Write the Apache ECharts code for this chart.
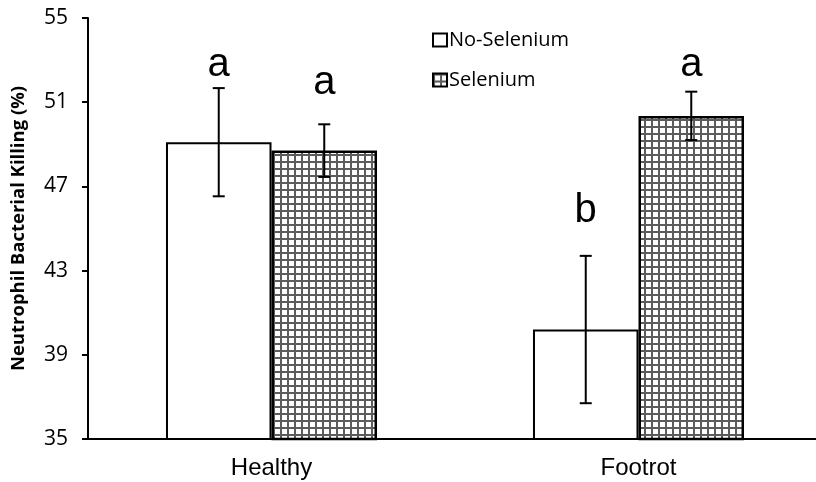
<!DOCTYPE html>
<html><head><meta charset="utf-8">
<script src="https://cdn.jsdelivr.net/npm/echarts@6/dist/echarts.min.js"></script>
<style>html,body{margin:0;padding:0;background:#fff}#c{width:816px;height:482px}</style>
</head><body><div id="c"></div>
<script>
var categories = ['Healthy', 'Footrot'];
var noSelenium = [49.1, 40.2];
var noSeleniumErr = [2.57, 3.5];
var selenium = [48.7, 50.35];
var seleniumErr = [1.25, 1.15];
var noSeleniumLetters = ['a', 'b'];
var seleniumLetters = ['a', 'a'];
var noSeleniumLetterY = [52.2, 45.25];
var seleniumLetterY = [51.35, 52.2];
var yTicks = [35, 39, 43, 47, 51, 55];

var tile = document.createElement('canvas');
tile.width = 7; tile.height = 7;
var g = tile.getContext('2d');
g.fillStyle = '#5c5c5c'; g.fillRect(0, 0, 7, 7);
g.fillStyle = '#ffffff'; g.fillRect(2, 2, 5, 5);
var pattern = {image: tile, repeat: 'repeat'};

var catGap = 0.425;
function errSeries(name, vals, errs, letters, letterY, side) {
  return {
    type: 'custom', name: name + ' err', silent: true, z: 5,
    data: vals.map(function (v, i) { return [i, v, errs[i], letterY[i], letters[i]]; }),
    renderItem: function (params, api) {
      var i = api.value(0), v = api.value(1), e = api.value(2), ly = api.value(3);
      var band = api.size([1, 0])[0];
      var bw = band * (1 - catGap) / 2;
      var c = api.coord([i, v]);
      var x = c[0] + side * bw / 2;
      var top = api.coord([i, v + e])[1];
      var bot = api.coord([i, v - e])[1];
      var lyp = api.coord([i, ly])[1];
      var st = {stroke: '#000', lineWidth: 2};
      return {type: 'group', children: [
        {type: 'line', shape: {x1: x, y1: top, x2: x, y2: bot}, style: st},
        {type: 'line', shape: {x1: x - 6, y1: top, x2: x + 6, y2: top}, style: st},
        {type: 'line', shape: {x1: x - 6, y1: bot, x2: x + 6, y2: bot}, style: st},
        {type: 'text', x: x, y: lyp + 8, style: {text: letters[i], fill: '#000', font: '40px "Liberation Sans", Arial, sans-serif', textAlign: 'center', textVerticalAlign: 'bottom'}}
      ]};
    }
  };
}

var chart = echarts.init(document.getElementById('c'), null, {renderer: 'canvas'});
chart.setOption({
  animation: false,
  backgroundColor: '#fff',
  grid: {left: 88, top: 18, bottom: 43, width: 734, outerBoundsMode: 'none', containLabel: false},
  legend: {
    orient: 'vertical', left: 427, top: 24, itemGap: 18,
    itemWidth: 14, itemHeight: 13,
    textStyle: {fontFamily: 'Open Sans', fontSize: 20, color: '#000', lineHeight: 22, padding: [0, 0, 0, -3]},
    data: [
      {name: 'No-Selenium', icon: 'rect', itemStyle: {color: '#fff', borderColor: '#000', borderWidth: 2}},
      {name: 'Selenium', icon: 'rect', itemStyle: {color: pattern, borderColor: '#000', borderWidth: 2}}
    ]
  },
  xAxis: {
    type: 'category', data: categories,
    axisLine: {lineStyle: {color: '#000', width: 2}},
    axisTick: {length: 6, lineStyle: {color: '#000', width: 2}},
    axisLabel: {fontFamily: '"Liberation Sans", Arial', fontSize: 24, color: '#000', margin: 17}
  },
  yAxis: {
    type: 'value', min: 35, max: 55, interval: 4,
    name: 'Neutrophil Bacterial Killing (%)', nameLocation: 'middle', nameGap: 60,
    nameTextStyle: {fontFamily: 'Open Sans', fontWeight: 'bold', fontSize: 18.5, color: '#000'},
    axisLine: {show: true, lineStyle: {color: '#000', width: 2}},
    axisTick: {show: true, length: 6, lineStyle: {color: '#000', width: 2}},
    axisLabel: {fontFamily: 'Open Sans', fontSize: 21, color: '#000', margin: 20},
    splitLine: {show: false}
  },
  series: [
    {type: 'bar', name: 'No-Selenium', data: noSelenium, barGap: '0%', barCategoryGap: (catGap * 100) + '%',
      itemStyle: {color: '#fff', borderColor: '#000', borderWidth: 2}},
    {type: 'bar', name: 'Selenium', data: selenium, barGap: '0%', barCategoryGap: (catGap * 100) + '%',
      itemStyle: {color: pattern, borderColor: '#000', borderWidth: 2.5}},
    errSeries('No-Selenium', noSelenium, noSeleniumErr, noSeleniumLetters, noSeleniumLetterY, -1),
    errSeries('Selenium', selenium, seleniumErr, seleniumLetters, seleniumLetterY, 1)
  ]
});
</script></body></html>
